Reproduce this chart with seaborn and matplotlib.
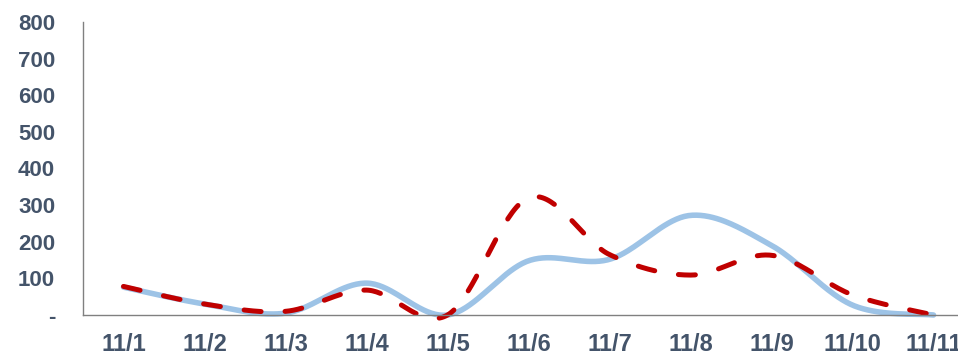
import numpy as np
import pandas as pd
import matplotlib
matplotlib.use("Agg")
import matplotlib.pyplot as plt
import seaborn as sns

# Daily values for 11/1 - 11/11
dates = ["11/1", "11/2", "11/3", "11/4", "11/5", "11/6", "11/7", "11/8", "11/9", "11/10", "11/11"]
series_blue = [76, 30, 5, 87, 0, 148, 152, 272, 190, 27, 0]
series_red = [78, 30, 10, 68, 0, 320, 165, 109, 163, 55, 0]
y_ticks = [0, 100, 200, 300, 400, 500, 600, 700, 800]
y_tick_labels = ["-", "100", "200", "300", "400", "500", "600", "700", "800"]

TEXT = "#44546A"
BLUE = "#9DC3E6"
RED = "#C00000"


def smooth(values, steps=40):
    """Catmull-Rom curve through the category points (office-style smoothed line)."""
    p = np.asarray(values, dtype=float)
    x = np.arange(len(p), dtype=float)
    px = np.concatenate([[x[0]], x, [x[-1]]])
    py = np.concatenate([[p[0]], p, [p[-1]]])
    xs, ys = [], []
    for i in range(1, len(px) - 2):
        t = np.linspace(0, 1, steps, endpoint=False)
        for arr, out in ((px, xs), (py, ys)):
            p0, p1, p2, p3 = arr[i - 1], arr[i], arr[i + 1], arr[i + 2]
            c1 = p1 + (p2 - p0) / 6
            c2 = p2 - (p3 - p1) / 6
            out.extend((1 - t) ** 3 * p1 + 3 * (1 - t) ** 2 * t * c1
                       + 3 * (1 - t) * t ** 2 * c2 + t ** 3 * p2)
    xs.append(x[-1])
    ys.append(p[-1])
    return np.array(xs), np.array(ys)


sns.set_theme(style="white")
plt.rcParams["font.family"] = ["Liberation Sans", "DejaVu Sans"]

fig = plt.figure(figsize=(9.58, 3.55), dpi=100)
ax = fig.add_axes([83 / 958, 40 / 355, 891 / 958, 293 / 355])

bx, by = smooth(series_blue)
rx, ry = smooth(series_red)
df_blue = pd.DataFrame({"x": bx, "y": by})
df_red = pd.DataFrame({"x": rx, "y": ry})

sns.lineplot(data=df_blue, x="x", y="y", ax=ax, color=BLUE, linewidth=4.0,
             sort=False, estimator=None, clip_on=False, solid_capstyle="round")
sns.lineplot(data=df_red, x="x", y="y", ax=ax, color=RED, linewidth=3.6,
             sort=False, estimator=None, clip_on=False)
ax.lines[-1].set_linestyle((0, (3.4, 4.8)))
ax.lines[-1].set_dash_capstyle("round")

ax.set_xlim(-0.5, 10.5)
ax.set_ylim(0, 800)
ax.set_xticks(range(len(dates)))
ax.set_xticklabels(dates)
ax.set_yticks(y_ticks)
ax.set_yticklabels(y_tick_labels)
ax.set_xlabel("")
ax.set_ylabel("")

for lab in ax.get_yticklabels():
    lab.set_fontweight("bold")
    lab.set_color(TEXT)
    lab.set_fontsize(16)
for lab in ax.get_xticklabels():
    lab.set_fontweight("bold")
    lab.set_color(TEXT)
    lab.set_fontsize(17)

ax.tick_params(axis="x", length=0, pad=13)
ax.tick_params(axis="y", length=0, pad=20)

for side in ("top", "right"):
    ax.spines[side].set_visible(False)
for side in ("left", "bottom"):
    ax.spines[side].set_color("#808080")
    ax.spines[side].set_linewidth(1.0)

fig.savefig("out.png", dpi=100)
